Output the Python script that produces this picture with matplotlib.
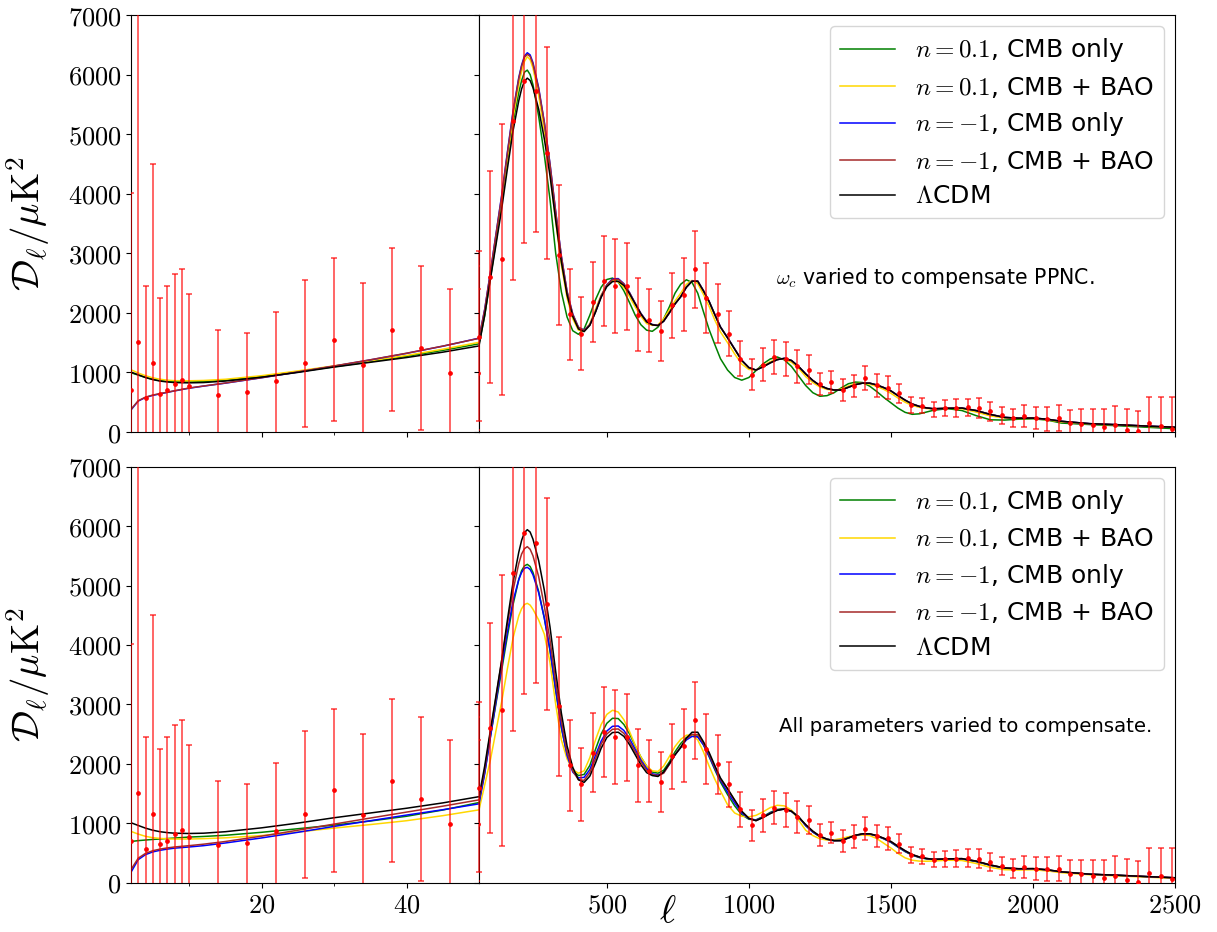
import numpy as np
import matplotlib
matplotlib.use('Agg')
import matplotlib.pyplot as plt
from matplotlib.ticker import FixedLocator, FuncFormatter

plt.rcParams['mathtext.fontset'] = 'cm'
plt.rcParams['font.family'] = ['DejaVu Sans']

# ---------------- data points (binned spectrum) ----------------
ell_lo = [2, 3, 4, 5, 6, 7, 8, 9, 10, 14, 18, 22, 26, 30, 34, 38, 42, 46, 50]
D_lo = [700, 1510, 570, 1157, 643, 699, 811, 878, 766, 626, 665, 861, 1157, 1549, 1129, 1716, 1403, 990, 1593]
err_lo_up = [3315, 5800, 1873, 3349, 1605, 1750, 1839, 1856, 1554, 1079, 995, 1157, 1392, 1369, 1365, 1376, 1387, 1408, 1443]
err_lo_dn = [3315, 5800, 1873, 3349, 1605, 1750, 1839, 1856, 1554, 1079, 995, 1157, 1073, 1364, 1250, 1364, 1375, 1300, 1408]

ell_hi = [90, 130, 170, 210, 250, 290, 330, 370, 410, 450, 490, 530, 570, 610, 650, 690, 730, 770,
          810, 850, 890, 930, 970, 1010, 1050, 1090, 1130, 1170, 1210, 1250, 1290, 1330, 1370, 1410,
          1450, 1490, 1530, 1570, 1610, 1650, 1690, 1730, 1770, 1810, 1850, 1890, 1930, 1970, 2010,
          2050, 2090, 2130, 2170, 2210, 2250, 2290, 2330, 2370, 2410, 2450, 2490]
D_hi = [2601, 2898, 5214, 5885, 5722, 4688, 2965, 1975, 1651, 2182, 2529, 2450, 2445, 1970, 1874, 1695, 2126, 2305,
        2730, 2249, 1987, 1651, 1232, 963, 1131, 1259, 1220, 1102, 1047, 800, 839, 700, 772, 906,
        784, 745, 654, 460, 443, 381, 398, 403, 414, 403, 347, 280, 235, 263, 235,
        225, 235, 151, 140, 117, 84, 117, 40, 15, 157, 107, 57]
err_hi = [1775, 2280, 2668, 2713, 2366, 1780, 1175, 765, 615, 665, 755, 789, 733, 615, 524, 503, 550, 615,
          643, 592, 492, 378, 293, 257, 274, 280, 285, 275, 238, 187, 182, 182, 192, 195,
          190, 193, 159, 134, 129, 125, 134, 145, 145, 162, 157, 148, 157, 187, 193,
          201, 218, 225, 246, 264, 297, 326, 352, 344, 430, 480, 530]

# ---------------- model curves ----------------
# low-ell panel grid
L_low = [2, 3, 4, 5, 6, 7, 8, 10, 12, 15, 20, 25, 30, 35, 40, 45, 50]
lcdm_low = [1006, 960, 915, 880, 855, 840, 830, 825, 830, 855, 920, 1000, 1090, 1170, 1250, 1340, 1445]
top_green_low = [995, 955, 915, 885, 862, 850, 842, 840, 845, 868, 930, 1010, 1095, 1180, 1270, 1370, 1480]
top_yellow_low = [1045, 990, 945, 910, 885, 870, 862, 860, 865, 885, 945, 1025, 1110, 1195, 1285, 1390, 1505]
top_blue_low = [370, 520, 580, 615, 640, 665, 690, 735, 770, 820, 910, 1005, 1105, 1210, 1320, 1440, 1575]
top_brown_low = [380, 525, 585, 620, 645, 668, 692, 738, 772, 822, 912, 1008, 1108, 1212, 1322, 1442, 1572]
bot_green_low = [690, 705, 715, 725, 732, 740, 748, 765, 775, 795, 845, 905, 966, 1035, 1115, 1220, 1346]
bot_yellow_low = [860, 815, 777, 755, 742, 735, 732, 732, 738, 752, 790, 850, 916, 975, 1040, 1125, 1223]
bot_blue_low = [173, 385, 469, 515, 542, 562, 578, 598, 620, 665, 750, 845, 944, 1040, 1135, 1225, 1324]
bot_brown_low = [218, 410, 490, 535, 562, 582, 598, 620, 645, 690, 780, 880, 983, 1085, 1185, 1285, 1391]

# high-ell panel grid
L_high = [50, 70, 90, 110, 130, 150, 170, 190, 200, 210, 220, 230, 240,
          260, 280, 300, 320, 340, 360, 380, 400, 420, 440, 460, 480, 500, 520, 540, 560, 580, 600,
          620, 640, 660, 680, 700, 720, 740, 760, 780, 800, 820, 840, 860, 880, 900,
          925, 950, 975, 1000, 1025, 1050, 1075, 1100, 1125, 1150, 1175, 1200, 1225, 1250, 1275,
          1300, 1325, 1350, 1375, 1400, 1425, 1450, 1475, 1500, 1525, 1550, 1575, 1600, 1625, 1650,
          1700, 1750, 1800, 1850, 1900, 1950, 2000, 2050, 2100, 2200, 2300, 2400, 2500]

lcdm_high = [1445, 1960, 2560, 3150, 3750, 4420, 5060, 5560, 5760, 5890, 5940, 5900, 5780,
             5420, 4920, 4300, 3550, 2850, 2300, 1940, 1730, 1685, 1790, 2010, 2260, 2440, 2525, 2530, 2460, 2320, 2150,
             1980, 1850, 1800, 1785, 1860, 2000, 2150, 2270, 2430, 2530, 2530, 2370, 2190, 1970, 1760,
             1580, 1390, 1200, 1080, 1040, 1095, 1160, 1215, 1235, 1200, 1100, 975, 865, 780, 730,
             705, 705, 750, 795, 820, 820, 790, 745, 690, 610, 535, 470, 430, 405, 390,
             398, 402, 360, 295, 245, 232, 234, 215, 180, 140, 122, 100, 80]

top_green_high = [1480, 1950, 2580, 3200, 3850, 4550, 5200, 5700, 5900, 6040, 6075, 6000, 5830,
                  5300, 4650, 3900, 3000, 2350, 1930, 1700, 1640, 1730, 1960, 2220, 2430, 2560, 2584, 2520, 2370, 2170, 1960,
                  1800, 1710, 1690, 1760, 1900, 2100, 2330, 2480, 2555, 2510, 2330, 2020, 1720, 1470, 1230,
                  1040, 915, 870, 915, 1030, 1145, 1225, 1259, 1210, 1100, 940, 780, 660, 600, 610,
                  660, 740, 810, 838, 830, 770, 680, 580, 490, 400, 330, 297, 305, 335, 365,
                  392, 360, 275, 205, 200, 215, 222, 200, 150, 125, 105, 80, 55]

top_yellow_high = [1505, 2010, 2620, 3250, 3880, 4590, 5280, 5830, 6050, 6220, 6300, 6250, 6110,
                   5650, 5050, 4350, 3530, 2800, 2250, 1900, 1710, 1690, 1820, 2060, 2300, 2470, 2545, 2520, 2430, 2270, 2100,
                   1940, 1820, 1790, 1800, 1900, 2050, 2200, 2330, 2480, 2545, 2490, 2310, 2110, 1880, 1680,
                   1500, 1310, 1140, 1050, 1040, 1110, 1180, 1225, 1225, 1170, 1070, 930, 830, 755, 715,
                   700, 720, 770, 810, 820, 805, 765, 715, 650, 570, 500, 445, 415, 395, 388,
                   400, 390, 335, 270, 235, 228, 230, 205, 170, 135, 118, 95, 75]

top_blue_high = [1575, 2060, 2680, 3330, 3980, 4700, 5390, 5950, 6160, 6310, 6366, 6330, 6200,
                 5780, 5200, 4500, 3700, 2950, 2360, 1980, 1760, 1710, 1800, 2020, 2280, 2470, 2570, 2575, 2490, 2340, 2160,
                 1990, 1860, 1805, 1790, 1860, 2000, 2150, 2270, 2430, 2535, 2535, 2375, 2195, 1975, 1765,
                 1585, 1395, 1205, 1082, 1040, 1095, 1160, 1215, 1237, 1200, 1100, 975, 865, 782, 730,
                 705, 705, 750, 795, 820, 820, 790, 745, 690, 610, 535, 470, 430, 405, 390,
                 398, 402, 360, 295, 245, 232, 234, 215, 180, 140, 122, 100, 80]

top_brown_high = [1572, 2050, 2670, 3320, 3960, 4680, 5370, 5930, 6140, 6290, 6340, 6305, 6175,
                  5760, 5190, 4490, 3690, 2945, 2355, 1975, 1755, 1705, 1795, 2015, 2275, 2465, 2560, 2565, 2485, 2335, 2155,
                  1985, 1855, 1800, 1788, 1860, 2000, 2150, 2270, 2430, 2533, 2533, 2372, 2192, 1972, 1762,
                  1582, 1392, 1202, 1081, 1040, 1095, 1160, 1215, 1236, 1200, 1100, 975, 865, 781, 730,
                  705, 705, 750, 795, 820, 820, 790, 745, 690, 610, 535, 470, 430, 405, 390,
                  398, 402, 360, 295, 245, 232, 234, 215, 180, 140, 122, 100, 80]

bot_green_high = [1346, 1850, 2450, 3020, 3580, 4150, 4680, 5100, 5250, 5330, 5356, 5320, 5220,
                  4900, 4450, 3900, 3230, 2600, 2150, 1890, 1800, 1820, 1970, 2240, 2500, 2680, 2765, 2760, 2660, 2500, 2300,
                  2110, 1960, 1860, 1840, 1890, 2030, 2200, 2340, 2440, 2485, 2460, 2320, 2120, 1900, 1690,
                  1480, 1290, 1140, 1065, 1055, 1110, 1180, 1230, 1245, 1200, 1110, 960, 850, 770, 725,
                  705, 710, 750, 790, 815, 815, 785, 735, 675, 595, 520, 460, 420, 398, 385,
                  395, 395, 352, 288, 240, 228, 230, 210, 177, 138, 120, 98, 78]

bot_yellow_high = [1223, 1640, 2060, 2560, 3050, 3600, 4120, 4490, 4610, 4680, 4700, 4670, 4600,
                   4420, 4180, 3700, 3000, 2400, 2080, 1900, 1840, 1880, 2100, 2400, 2660, 2830, 2900, 2870, 2740, 2540, 2310,
                   2110, 1960, 1880, 1870, 1960, 2120, 2290, 2410, 2480, 2480, 2400, 2200, 1960, 1740, 1540,
                   1310, 1170, 1115, 1105, 1130, 1190, 1260, 1300, 1290, 1220, 1050, 880, 790, 735, 715,
                   718, 740, 770, 790, 800, 790, 740, 660, 580, 490, 415, 375, 360, 358, 362,
                   375, 370, 320, 255, 215, 210, 215, 195, 165, 130, 110, 90, 70]

bot_blue_high = [1324, 1830, 2440, 3050, 3650, 4220, 4740, 5100, 5220, 5290, 5306, 5270, 5180,
                 4880, 4450, 3920, 3250, 2620, 2140, 1860, 1760, 1770, 1900, 2140, 2380, 2550, 2630, 2635, 2560, 2420, 2240,
                 2060, 1920, 1830, 1810, 1850, 1990, 2150, 2280, 2400, 2460, 2450, 2320, 2130, 1920, 1720,
                 1520, 1340, 1170, 1075, 1050, 1100, 1170, 1220, 1238, 1195, 1105, 955, 850, 775, 728,
                 705, 708, 750, 792, 815, 815, 785, 738, 680, 600, 525, 465, 425, 402, 388,
                 396, 398, 356, 292, 242, 230, 232, 212, 178, 139, 121, 99, 79]

bot_brown_high = [1391, 1900, 2520, 3120, 3740, 4350, 4920, 5370, 5530, 5620, 5654, 5610, 5500,
                  5150, 4650, 4080, 3380, 2720, 2200, 1880, 1730, 1720, 1850, 2080, 2330, 2500, 2580, 2585, 2510, 2370, 2200,
                  2030, 1890, 1815, 1800, 1840, 1990, 2150, 2280, 2420, 2495, 2490, 2350, 2160, 1945, 1740,
                  1570, 1380, 1195, 1080, 1042, 1095, 1160, 1215, 1240, 1200, 1100, 970, 862, 780, 730,
                  705, 705, 750, 795, 820, 820, 790, 745, 690, 610, 535, 470, 430, 405, 390,
                  398, 402, 360, 295, 245, 232, 234, 215, 180, 140, 122, 100, 80]

labels = [r'$n=0.1$, CMB only', r'$n=0.1$, CMB + BAO', r'$n=-1$, CMB only',
          r'$n=-1$, CMB + BAO', r'$\Lambda$CDM']
colors = ['#008000', '#FFD700', '#0000FF', '#A52A2A', '#000000']

top_low = [top_green_low, top_yellow_low, top_blue_low, top_brown_low, lcdm_low]
top_high = [top_green_high, top_yellow_high, top_blue_high, top_brown_high, lcdm_high]
bot_low = [bot_green_low, bot_yellow_low, bot_blue_low, bot_brown_low, lcdm_low]
bot_high = [bot_green_high, bot_yellow_high, bot_blue_high, bot_brown_high, lcdm_high]

# ---------------- figure ----------------
W, H = 1217, 932
fig = plt.figure(figsize=(W / 100, H / 100), dpi=100)

xl, xm, xr = 131 / W, 479 / W, 1175 / W
rows = [(1 - 432 / H, (432 - 15) / H), (1 - 882.5 / H, (882.5 - 466.7) / H)]

math_fmt = FuncFormatter(lambda v, p: r'$%d$' % int(round(v)))
all_ell = ell_lo + ell_hi
all_D = D_lo + D_hi
all_dn = err_lo_dn + err_hi
all_up = err_lo_up + err_hi

texts = [r'$\omega_c$ varied to compensate PPNC.', 'All parameters varied to compensate.']

for r, (b, h) in enumerate(rows):
    axL = fig.add_axes([xl, b, xm - xl, h])
    axR = fig.add_axes([xm, b, xr - xm, h])
    lows = top_low if r == 0 else bot_low
    highs = top_high if r == 0 else bot_high
    for ys, c, lab in zip(lows, colors, labels):
        axL.plot(L_low, ys, color=c, lw=1.1, label=lab)
    for ys, c, lab in zip(highs, colors, labels):
        axR.plot(L_high, ys, color=c, lw=1.1, label=lab)
    for ax in (axL, axR):
        ax.errorbar(all_ell, all_D, yerr=[all_dn, all_up], fmt='o', ms=2.4, color='red',
                    ecolor=(1, 0, 0, 0.7), elinewidth=1.2, capsize=2, capthick=1.2, zorder=6)
        ax.set_ylim(0, 7000)
        ax.yaxis.set_major_locator(FixedLocator(np.arange(0, 7001, 1000)))
        ax.yaxis.set_major_formatter(math_fmt)
        ax.xaxis.set_major_formatter(math_fmt)
        ax.tick_params(labelsize=19)
    axL.set_xlim(2, 50)
    axL.xaxis.set_major_locator(FixedLocator([20, 40]))
    axL.xaxis.set_minor_locator(FixedLocator([10, 30]))
    axR.set_xlim(50, 2500)
    axR.xaxis.set_major_locator(FixedLocator([500, 1000, 1500, 2000, 2500]))
    axR.tick_params(axis='y', labelleft=False)
    axL.set_ylabel(r'$\mathcal{D}_\ell/\mu{\rm K}^2$', fontsize=28)
    axL.yaxis.set_label_coords(-0.227, 0.5)
    if r == 0:
        axL.tick_params(axis='x', labelbottom=False)
        axR.tick_params(axis='x', labelbottom=False)
        axR.text(0.427, 0.369, texts[0], transform=axR.transAxes, fontsize=14.8, va='center', ha='left')
    else:
        axR.text(0.431, 0.374, texts[1], transform=axR.transAxes, fontsize=14.2, va='center', ha='left')
    axR.legend(loc='upper right', fontsize=18, handlelength=2.2, labelspacing=0.42,
               borderaxespad=0.45)

fig.text(668 / W, 0.002, r'$\ell$', fontsize=28, ha='center', va='bottom')

fig.savefig('out.png', dpi=100)
